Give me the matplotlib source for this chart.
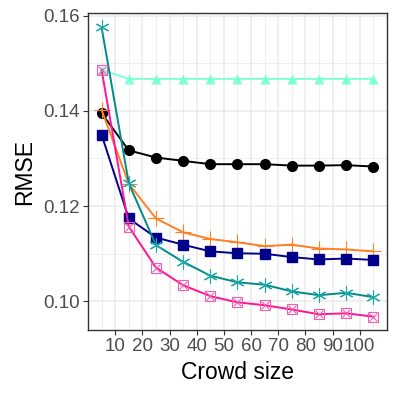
import matplotlib
matplotlib.use("Agg")
import matplotlib.pyplot as plt

plt.rcParams['font.family'] = ['Liberation Sans', 'DejaVu Sans']

crowd = [5, 15, 25, 35, 45, 55, 65, 75, 85, 95, 105]

aqua = [0.1486, 0.1467, 0.1467, 0.1467, 0.1467, 0.1467, 0.1467, 0.1467, 0.1467, 0.1467, 0.1467]
black = [0.1395, 0.1317, 0.1302, 0.1295, 0.1288, 0.1288, 0.1288, 0.1285, 0.1285, 0.1286, 0.1283]
orange = [0.1402, 0.1247, 0.1174, 0.1145, 0.1131, 0.1124, 0.1116, 0.1119, 0.1111, 0.1109, 0.1105]
navy = [0.1350, 0.1174, 0.1134, 0.1119, 0.1105, 0.1101, 0.1100, 0.1093, 0.1088, 0.1090, 0.1087]
teal = [0.1575, 0.1248, 0.1118, 0.1083, 0.1054, 0.1040, 0.1035, 0.1021, 0.1013, 0.1018, 0.1009]
pink = [0.1486, 0.1157, 0.1071, 0.1034, 0.1011, 0.0998, 0.0992, 0.0983, 0.0973, 0.0975, 0.0968]

fig = plt.figure(figsize=(3.99, 3.99), dpi=100)
ax = fig.add_axes([0.2206, 0.173, 0.749, 0.794])

ax.plot(crowd, aqua, color='#7FFFD4', lw=1.4, marker='^', ms=7.5, mec='none')
ax.plot(crowd, black, color='black', lw=1.4, marker='o', ms=7)
ax.plot(crowd, orange, color='#FF7F24', lw=1.4, marker='+', ms=11, mew=0.8)
ax.plot(crowd, navy, color='#00008B', lw=1.4, marker='s', ms=6.5)
ax.plot(crowd, teal, color='#008B8B', lw=1.4, marker=(6, 2, 0), ms=10, mew=0.8, mec='#20A8A8')
ax.plot(crowd, pink, color='#FF1493', lw=1.4, marker='s', ms=7.5, mfc='none', mec='#F060B0', mew=0.8)
ax.plot(crowd, pink, color='none', marker='x', ms=6, mec='#F060B0', mew=0.8)

ax.set_xlim(0, 110)
ax.set_ylim(0.094, 0.1605)
ax.set_xticks(range(10, 101, 10))
ax.set_xticks([5, 15, 25, 35, 45, 55, 65, 75, 85, 95, 105], minor=True)
ax.set_yticks([0.10, 0.12, 0.14, 0.16])
ax.set_yticklabels(['0.10', '0.12', '0.14', '0.16'])
ax.set_yticks([0.11, 0.13, 0.15], minor=True)

ax.grid(which='major', color='#EBEBEB', lw=1.1)
ax.grid(which='minor', color='#EBEBEB', lw=0.55)
ax.set_axisbelow(True)
ax.tick_params(which='major', length=3.5, width=0.8, color='#333333', labelcolor='#4D4D4D', labelsize=13.5, pad=2.5)
ax.tick_params(which='minor', length=0)
for s in ax.spines.values():
    s.set_color('#333333')
    s.set_linewidth(1.0)

ax.set_xlabel('Crowd size', fontsize=16.5, labelpad=4)
ax.set_ylabel('RMSE', fontsize=16.5, labelpad=5)

fig.savefig('out.png', dpi=100)
